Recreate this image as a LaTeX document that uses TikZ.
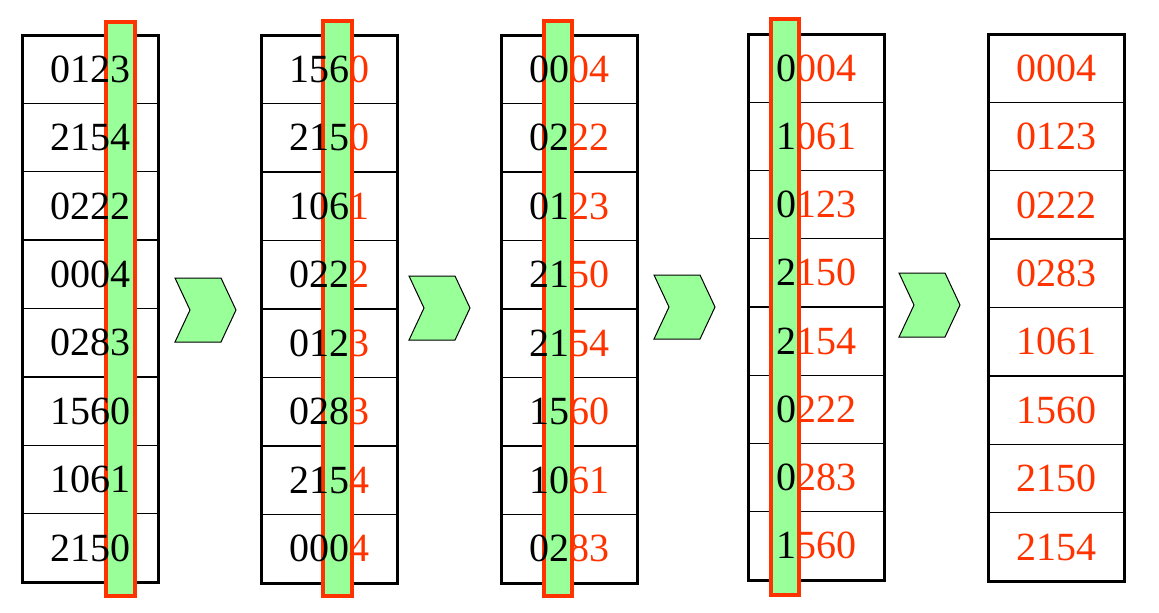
\documentclass[tikz,border=0pt]{standalone}
\usepackage{fontspec}
\setmainfont{Liberation Serif}
\usepackage{tikz}
\usetikzlibrary{positioning}
\definecolor{sortred}{HTML}{FF3300}
\definecolor{sortgreen}{HTML}{99FF99}
\tikzset{
  keybox/.style = {draw=black, line width=1.5pt},% frame of one pass
  keyline/.style = {draw=black, line width=0.7pt},% line between two keys
  digitcol/.style = {draw=sortred, fill=sortgreen, line width=2pt},% digit being sorted
  passarrow/.style = {draw=black, fill=sortgreen, line width=0.5pt},
  keytext/.style = {inner sep=0pt, font=\fontsize{20}{24}\selectfont}
}
\newcommand{\keynum}[2]{\textcolor{black}{#1}\textcolor{sortred}{#2}}

\begin{document}
\begin{tikzpicture}[x=0.5pt,y=-0.5pt]
\useasboundingbox (0,0) rectangle (1159,612);

% frames of the five passes
\foreach \l/\t/\b in {22/35/582, 261/35/583, 501/35/583, 748/34/580, 988/34/581} {
  \foreach \r in {1,...,7}
    \draw[keyline] (\l,{\t+\r*(\b-\t)/8}) -- ++(136,0);
  \draw[keybox] (\l,\t) rectangle ({\l+136},\b);
}

% highlighted digit
\foreach \l/\r/\t/\b in {104/137/20/598, 321/354/19/598, 542/574/19/598, 769/801/17/597}
  \draw[digitcol] ({\l+2},{\t+2}) rectangle ({\r-2},{\b-2});

% keys
\foreach \k [count=\r] in {0123,2154,0222,0004,0283,1560,1061,2150}
  \node[keytext] (a\r) at (90,{35+(\r-0.5)*68.4}) {\k};
\foreach \kb/\kr [count=\r] in {156/0,215/0,106/1,022/2,012/3,028/3,215/4,000/4}
  \node[keytext] (b\r) at (329,{35+(\r-0.5)*68.5}) {\keynum{\kb}{\kr}};
\foreach \kb/\kr [count=\r] in {00/04,02/22,01/23,21/50,21/54,15/60,10/61,02/83}
  \node[keytext] (c\r) at (569,{35+(\r-0.5)*68.5}) {\keynum{\kb}{\kr}};
\foreach \kb/\kr [count=\r] in {0/004,1/061,0/123,2/150,2/154,0/222,0/283,1/560}
  \node[keytext] (d\r) at (816,{34+(\r-0.5)*68.25}) {\keynum{\kb}{\kr}};
\foreach \k [count=\r] in {0004,0123,0222,0283,1061,1560,2150,2154}
  \node[keytext, sortred] (e\r) at (1056,{34+(\r-0.5)*68.4}) {\k};

% arrows between passes
\foreach \x/\y in {175/278, 409/276, 654/275, 899/273}
  \draw[passarrow] (\x,\y) -- ++(46,0) -- ++(15,32) -- ++(-15,32)
    -- ++(-46,0) -- ++(15,-32) -- cycle;
\end{tikzpicture}
\end{document}
